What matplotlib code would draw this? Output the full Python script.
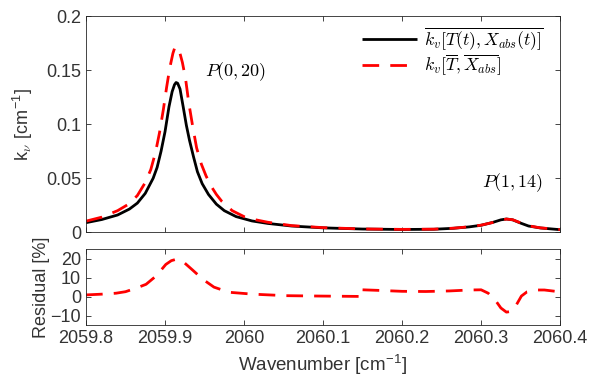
import numpy as np
import matplotlib
matplotlib.use("Agg")
import matplotlib.pyplot as plt

plt.rcParams['font.family'] = ['Liberation Sans', 'DejaVu Sans']
plt.rcParams['mathtext.fontset'] = 'cm'

# ---- data ----
wn_black = [2059.800, 2059.820, 2059.840, 2059.855, 2059.865, 2059.875, 2059.885,
            2059.890, 2059.895, 2059.900, 2059.905, 2059.909, 2059.912, 2059.914,
            2059.916, 2059.919, 2059.923, 2059.927, 2059.931, 2059.936, 2059.941,
            2059.947, 2059.955, 2059.965, 2059.975, 2059.990, 2060.010, 2060.030,
            2060.060, 2060.100, 2060.150, 2060.200, 2060.240, 2060.265, 2060.285,
            2060.300, 2060.315, 2060.325, 2060.332, 2060.340, 2060.350, 2060.360,
            2060.375, 2060.400]
k_black = [0.0089, 0.0118, 0.0160, 0.0215, 0.0270, 0.0360, 0.0500,
           0.0600, 0.0750, 0.0930, 0.1160, 0.1300, 0.1365, 0.1385,
           0.1378, 0.1325, 0.1160, 0.0990, 0.0850, 0.0700, 0.0560,
           0.0450, 0.0350, 0.0260, 0.0200, 0.0145, 0.0105, 0.0082,
           0.0058, 0.0041, 0.0030, 0.0026, 0.0028, 0.0037, 0.0050,
           0.0065, 0.0092, 0.0115, 0.0123, 0.0115, 0.0085, 0.0058,
           0.0040, 0.0024]

wn_red = [2059.800, 2059.820, 2059.840, 2059.855, 2059.865, 2059.875, 2059.882,
          2059.888, 2059.893, 2059.898, 2059.902, 2059.906, 2059.910, 2059.912,
          2059.914, 2059.916, 2059.918, 2059.922, 2059.926, 2059.930, 2059.935,
          2059.940, 2059.946, 2059.952, 2059.958, 2059.965, 2059.972, 2059.985,
          2060.000, 2060.015, 2060.030, 2060.060, 2060.100, 2060.150, 2060.200,
          2060.240, 2060.265, 2060.285, 2060.300, 2060.315, 2060.325, 2060.332,
          2060.340, 2060.350, 2060.360, 2060.375, 2060.400]
k_red = [0.0103, 0.0140, 0.0200, 0.0265, 0.0340, 0.0460, 0.0580,
         0.0740, 0.0920, 0.1140, 0.1340, 0.1520, 0.1655, 0.1700,
         0.1716, 0.1708, 0.1680, 0.1570, 0.1420, 0.1200, 0.0980,
         0.0780, 0.0630, 0.0520, 0.0430, 0.0350, 0.0285, 0.0200,
         0.0145, 0.0115, 0.0093, 0.0062, 0.0043, 0.0031, 0.0027,
         0.0029, 0.0038, 0.0051, 0.0066, 0.0091, 0.0113, 0.0122,
         0.0116, 0.0087, 0.0060, 0.0041, 0.0025]

wn_res1 = [2059.800, 2059.820, 2059.838, 2059.850, 2059.863, 2059.876, 2059.889,
           2059.901, 2059.908, 2059.914, 2059.922, 2059.935, 2059.948, 2059.962,
           2059.981, 2060.011, 2060.053, 2060.095, 2060.147]
res1 = [0.9, 1.3, 1.8, 2.6, 4.4, 6.5, 11.0,
        17.0, 19.0, 19.7, 18.8, 14.0, 9.1, 5.0,
        2.3, 1.3, 0.5, 0.3, 0.1]
wn_res2 = [2060.150, 2060.170, 2060.200, 2060.230, 2060.260, 2060.285, 2060.300,
           2060.309, 2060.318, 2060.325, 2060.332, 2060.338, 2060.344, 2060.351,
           2060.358, 2060.370, 2060.380, 2060.400]
res2 = [3.6, 3.3, 2.8, 2.7, 3.0, 3.5, 3.6,
        1.8, -1.9, -6.0, -8.2, -7.8, -4.8, 0.3,
        2.5, 3.5, 3.5, 2.5]

xticks = [2059.8, 2059.9, 2060.0, 2060.1, 2060.2, 2060.3, 2060.4]
xticklabels = ['2059.8', '2059.9', '2060', '2060.1', '2060.2', '2060.3', '2060.4']
yticks_top = [0, 0.05, 0.1, 0.15, 0.2]
yticklabels_top = ['0', '0.05', '0.1', '0.15', '0.2']
yticks_res = [-10, 0, 10, 20]

label_black = r'$\overline{k_v[T(t),X_{abs}(t)]}$'
label_red = r'$k_v[\overline{T},\overline{X_{abs}}]$'

axcol = '#262626'
txtcol = '#333333'

fig = plt.figure(figsize=(5.89, 3.83), dpi=100)
ax1 = fig.add_axes([0.146, 0.3935, 0.805, 0.5647])
ax2 = fig.add_axes([0.146, 0.1514, 0.805, 0.1977])

ax1.plot(wn_black, k_black, color='black', lw=2, solid_capstyle='butt', label=label_black)
ax1.plot(wn_red, k_red, color='red', lw=2, dashes=(6, 4), label=label_red)
ax2.plot(wn_res1, res1, color='red', lw=2, dashes=(6, 4))
ax2.plot(wn_res2, res2, color='red', lw=2, dashes=(6, 4))

for ax in (ax1, ax2):
    ax.set_xlim(2059.8, 2060.4)
    ax.set_xticks(xticks)
    ax.tick_params(direction='in', top=True, right=True, length=3.5, width=0.6,
                   colors=axcol, labelcolor=txtcol, labelsize=13)
    for s in ax.spines.values():
        s.set_color(axcol)
        s.set_linewidth(0.6)

ax1.set_ylim(0, 0.2)
ax1.set_yticks(yticks_top)
ax1.set_yticklabels(yticklabels_top)
ax1.set_xticklabels([])
ax1.set_ylabel(r'k$_\nu$ [cm$^{\mathregular{-1}}$]', fontsize=13, color=txtcol)
ax1.yaxis.set_label_coords(-0.108, 0.5)

ax2.set_ylim(-15, 25)
ax2.set_yticks(yticks_res)
ax2.set_xticklabels(xticklabels)
ax2.set_ylabel('Residual [%]', fontsize=13, color=txtcol)
ax2.yaxis.set_label_coords(-0.076, 0.5)
ax2.set_xlabel(r'Wavenumber [cm$^{\mathregular{-1}}$]', fontsize=13.5, color=txtcol, labelpad=4)

ax1.text(2059.9506, 0.1482, r'$P(0,20)$', fontsize=13, va='center', ha='left')
ax1.text(2060.3013, 0.0456, r'$P(1,14)$', fontsize=13, va='center', ha='left')

leg = ax1.legend(loc='upper right', bbox_to_anchor=(0.985, 1.0), frameon=False,
                 fontsize=12.7, handlelength=3.1, borderaxespad=0.15,
                 handletextpad=0.4, labelspacing=0.05)

fig.savefig('out.png', dpi=100)
